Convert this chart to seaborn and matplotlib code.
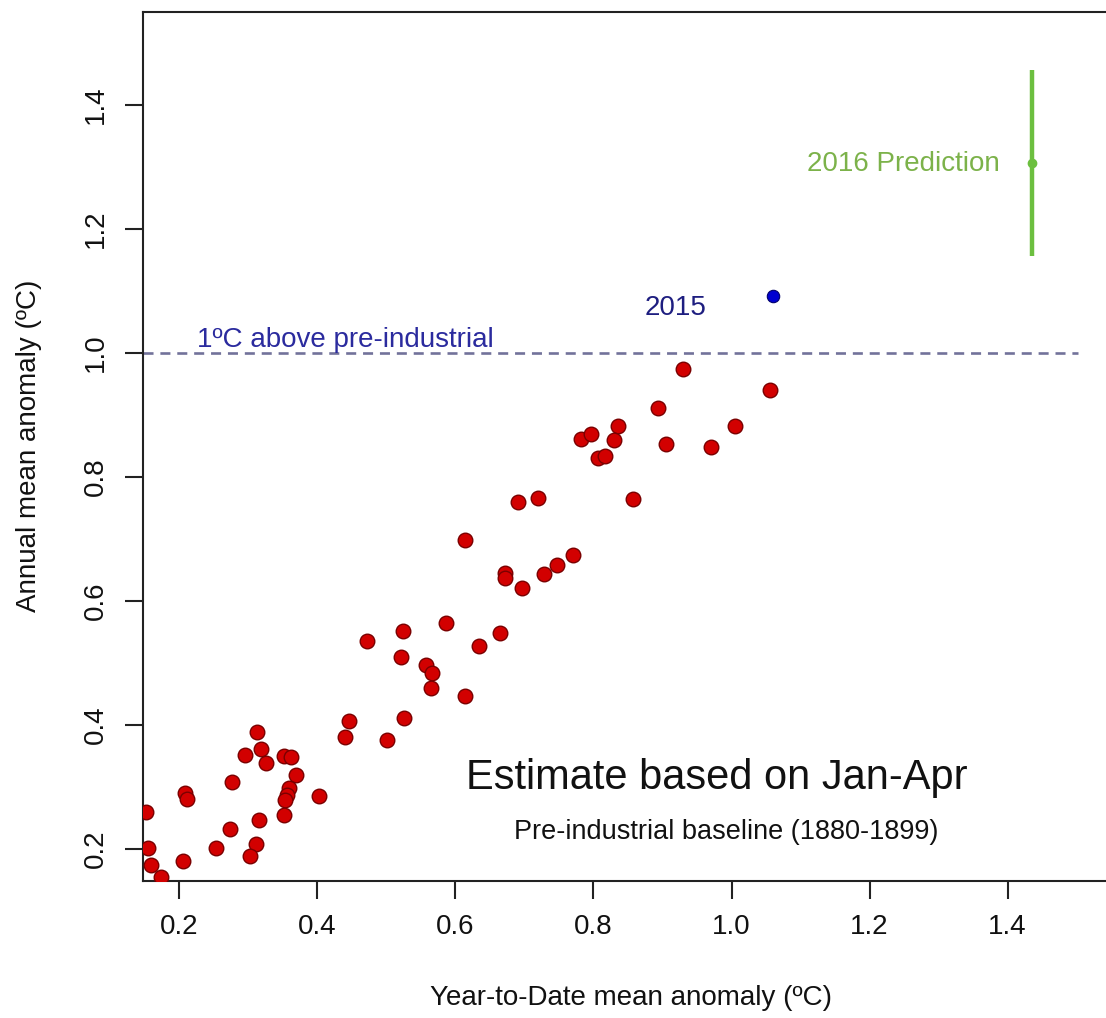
import matplotlib
matplotlib.use("Agg")
import matplotlib.pyplot as plt
import seaborn as sns
import pandas as pd

# ---------------- data ----------------
ytd_anomaly = [
    0.313, 0.295, 0.318, 0.326, 0.352, 0.362, 0.369, 0.359, 0.356, 0.353,
    0.351, 0.276, 0.402, 0.208, 0.211, 0.152, 0.273, 0.316, 0.253, 0.311,
    0.303, 0.155, 0.205, 0.159, 0.174,
    0.472, 0.524, 0.587, 0.665, 0.634, 0.521, 0.557, 0.566, 0.564, 0.614,
    0.526, 0.446, 0.440, 0.501,
    0.614, 0.770, 0.747, 0.729, 0.672, 0.672, 0.697, 0.691, 0.719, 0.857,
    0.782, 0.797, 0.835, 0.830, 0.807, 0.817, 0.893, 1.005, 0.905, 0.970,
    0.930, 1.056,
]
annual_anomaly = [
    0.388, 0.352, 0.361, 0.338, 0.350, 0.348, 0.320, 0.298, 0.287, 0.279,
    0.255, 0.308, 0.285, 0.291, 0.280, 0.259, 0.232, 0.247, 0.202, 0.208,
    0.189, 0.201, 0.181, 0.174, 0.155,
    0.536, 0.552, 0.565, 0.548, 0.528, 0.510, 0.496, 0.484, 0.460, 0.446,
    0.411, 0.406, 0.381, 0.376,
    0.698, 0.674, 0.658, 0.643, 0.645, 0.637, 0.621, 0.760, 0.766, 0.765,
    0.861, 0.870, 0.883, 0.859, 0.830, 0.834, 0.911, 0.882, 0.853, 0.849,
    0.974, 0.941,
]
year_2015_x = [1.06]
year_2015_y = [1.092]
pred_2016_x = [1.436]
pred_2016_y = [1.307]
pred_2016_err = [0.150]
threshold_value = 1.0
threshold_x_range = [0.148, 1.502]

x_ticks = [0.2, 0.4, 0.6, 0.8, 1.0, 1.2, 1.4]
y_ticks = [0.2, 0.4, 0.6, 0.8, 1.0, 1.2, 1.4]
tick_labels = ["0.2", "0.4", "0.6", "0.8", "1.0", "1.2", "1.4"]

df = pd.DataFrame({"ytd": ytd_anomaly, "annual": annual_anomaly})

# ---------------- style ----------------
sns.set_theme(style="white")
plt.rcParams["font.family"] = ["Liberation Sans", "DejaVu Sans"]

fig = plt.figure(figsize=(11.06, 10.18), dpi=100)
ax = fig.add_axes([0.12957, 0.13487, 0.88192, 0.85363])

sns.scatterplot(data=df, x="ytd", y="annual", ax=ax, s=110,
                color="#d20000", edgecolor="#7a0000", linewidth=1.0,
                zorder=3, legend=False)
sns.scatterplot(x=year_2015_x, y=year_2015_y, ax=ax, s=80,
                color="#0000d0", edgecolor="#00006a", linewidth=0.8,
                zorder=3, legend=False)

ax.errorbar(pred_2016_x, pred_2016_y, yerr=pred_2016_err, fmt="o",
            color="#6cbf3f", ecolor="#6cbf3f", elinewidth=3.2,
            markersize=6, capsize=0, zorder=3)

ax.plot(threshold_x_range, [threshold_value, threshold_value],
        color="#72729a", linewidth=1.9, dashes=(3.8, 2.6), zorder=2)

# ---------------- annotations ----------------
ax.text(0.2257, 1.0097, "1ºC above pre-industrial", color="#2b2b9e",
        fontsize=20, ha="left", va="baseline")
ax.text(0.9184, 1.061, "2015", color="#1e1e80", fontsize=20,
        ha="center", va="baseline")
ax.text(1.389, 1.294, "2016 Prediction", color="#7cb24a", fontsize=20,
        ha="right", va="baseline")
ax.text(0.978, 0.3145, "Estimate based on Jan-Apr", color="#111111",
        fontsize=30, ha="center", va="center")
ax.text(0.992, 0.2274, "Pre-industrial baseline (1880-1899)",
        color="#111111", fontsize=19.5, ha="center", va="center")

# ---------------- axes ----------------
ax.set_xlim(0.1478, 1.561)
ax.set_ylim(0.1489, 1.5505)
ax.set_xticks(x_ticks)
ax.set_xticklabels(tick_labels)
ax.set_yticks(y_ticks)
ax.set_yticklabels(tick_labels)

ax.tick_params(axis="both", direction="out", length=13, width=1.5,
               color="#222222", labelsize=20, labelcolor="#111111")
ax.tick_params(axis="x", pad=11, bottom=True)
ax.tick_params(axis="y", pad=12, left=True, labelrotation=90)
for lab in ax.get_yticklabels():
    lab.set_va("center")

for side in ["left", "bottom", "top", "right"]:
    ax.spines[side].set_visible(True)
    ax.spines[side].set_linewidth(1.5)
    ax.spines[side].set_color("#222222")

ax.set_xlabel("Year-to-Date mean anomaly (ºC)", fontsize=20, color="#111111")
ax.set_ylabel("Annual mean anomaly (ºC)", fontsize=20, color="#111111")
ax.xaxis.set_label_coords(0.5, -0.135)
ax.xaxis.label.set_va("center")
ax.yaxis.set_label_coords(-0.1172, 0.5)
ax.yaxis.label.set_va("center")

fig.savefig("out.png", dpi=100, facecolor="white")
